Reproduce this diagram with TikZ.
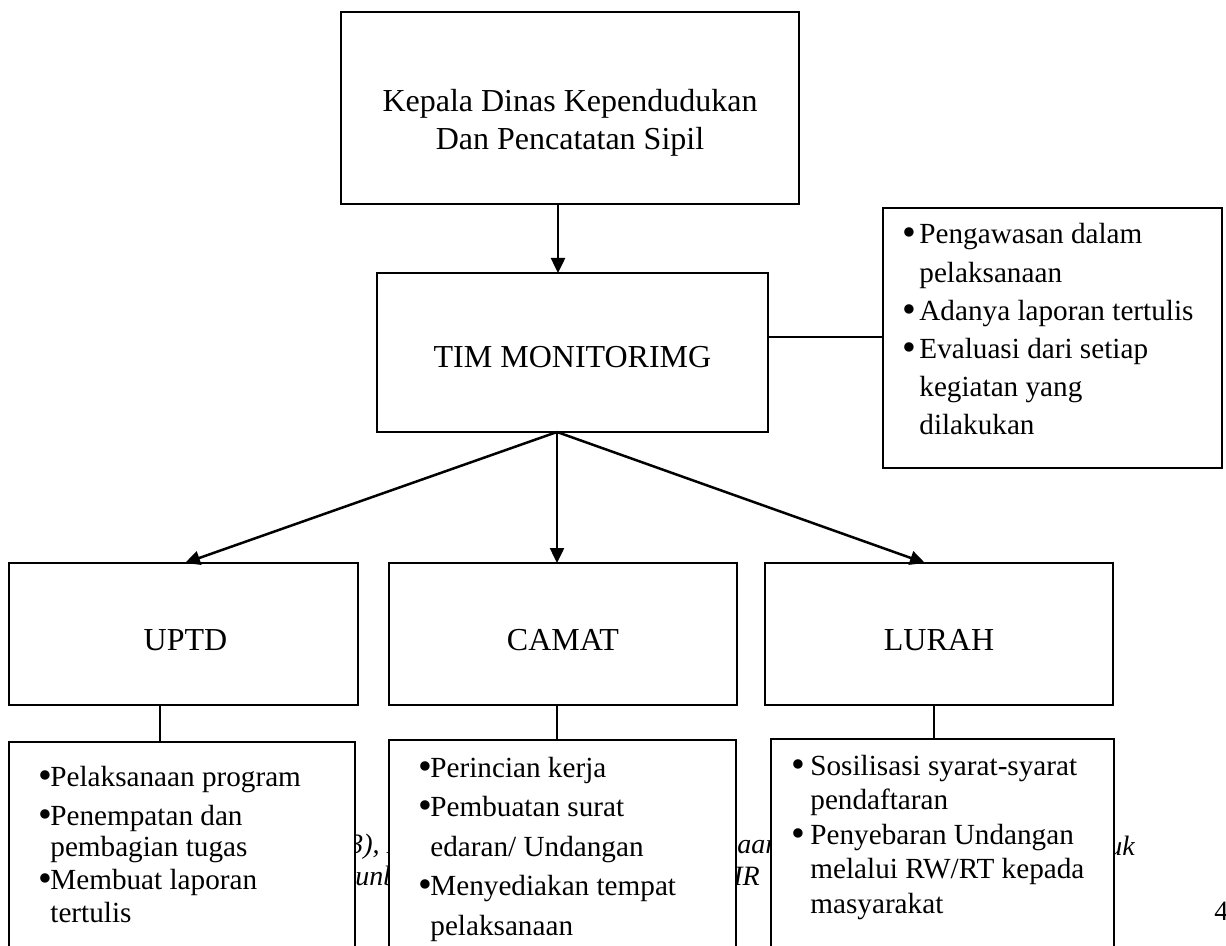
\documentclass[tikz,border=0pt]{standalone}
\usepackage{fontspec}
\setmainfont{Liberation Serif}
\usetikzlibrary{arrows.meta}
\newcommand\bl[1]{\makebox[#1pt][l]{\raisebox{-1pt}{\scalebox{1.35}{\textbullet}}}}
\newcommand\ind[1]{\hspace*{#1pt}}
\begin{document}
\begin{tikzpicture}[x=0.5pt,y=-0.5pt,
  box/.style={draw, line width=0.85pt, fill=white, inner sep=0pt, outer sep=0pt},
  big/.style={font=\fontsize{16}{19}\selectfont, inner sep=0pt, align=center},
  lst/.style={align=left, inner sep=0pt, anchor=base west},
  frag/.style={font=\fontsize{14}{16}\selectfont\itshape, inner sep=0pt, anchor=base west},
  arr/.style={line width=1.25pt, -{Triangle[length=7.5pt,width=7pt]}},
  ln/.style={line width=0.6pt}]
\useasboundingbox (0,0) rectangle (1226,946);
\clip (0,0) rectangle (1226,946);
% fragments of text lying behind the boxes
\node[frag] (f1) at (349,853) {3), I};
\node[frag] (f2) at (355,885) {unb};
\node[frag] (f3) at (737,853) {aar};
\node[frag] (f4) at (733,885) {IR};
\node[frag] (f5) at (1108,855) {uk};
\node[frag, font=\fontsize{14}{16}\selectfont] (f6) at (1214,920) {4};
% boxes
\node[box, minimum width=229pt, minimum height=96pt] (top) at (570,108) {};
\node[box, minimum width=195.5pt, minimum height=79.5pt] (tim) at (572.5,352.5) {};
\node[box, minimum width=169.5pt, minimum height=130pt] (ket) at (1052.5,338) {};
\node[box, minimum width=174.5pt, minimum height=71pt] (uptd) at (183.5,634) {};
\node[box, minimum width=174pt, minimum height=71pt] (camat) at (563,634) {};
\node[box, minimum width=174pt, minimum height=71pt] (lurah) at (939,634) {};
\node[box, minimum width=173pt, minimum height=125pt] (l1) at (182,867) {};
\node[box, minimum width=173.5pt, minimum height=125pt] (l2) at (562.5,865) {};
\node[box, minimum width=171.5pt, minimum height=125pt] (l3) at (942.5,864) {};
% labels (base anchor = baseline of the last line)
\node[big, anchor=base] (toplbl) at (570,150) {Kepala Dinas Kependudukan\\Dan Pencatatan Sipil};
\node[big, anchor=base] (timlbl) at (572.5,368) {TIM MONITORIMG};
\node[big, anchor=base] (uptdlbl) at (185.5,650) {UPTD};
\node[big, anchor=base] (camatlbl) at (563,650) {CAMAT};
\node[big, anchor=base] (lurahlbl) at (939,650) {LURAH};
% lists
\node[lst, font=\fontsize{14.6}{19.1}\selectfont] (ketlst) at (902,435)
 {\bl{8.5}Pengawasan dalam\\\ind{8.5}pelaksanaan\\\bl{8.5}Adanya laporan tertulis\\\bl{8.5}Evaluasi dari setiap\\\ind{8.5}kegiatan yang\\\ind{8.5}dilakukan};
\node[lst, font=\fontsize{14.6}{16}\selectfont] (l1lst) at (38,922)
 {\bl{6}Pelaksanaan program\\[3.5pt]\bl{6}Penempatan dan\\[-0.5pt]\ind{6}pembagian tugas\\[0.5pt]\bl{6}Membuat laporan\\[0.5pt]\ind{6}tertulis};
\node[lst, font=\fontsize{14.6}{19.75}\selectfont] (l2lst) at (418,935)
 {\bl{6}Perincian kerja\\\bl{6}Pembuatan surat\\\ind{6}edaran/ Undangan\\\bl{6}Menyediakan tempat\\\ind{6}pelaksanaan};
\node[lst, font=\fontsize{14.6}{17.25}\selectfont] (l3lst) at (791,913)
 {\bl{9.5}Sosilisasi syarat-syarat\\\ind{9.5}pendaftaran\\\bl{9.5}Penyebaran Undangan\\\ind{9.5}melalui RW/RT kepada\\\ind{9.5}masyarakat};
% connectors
\draw[arr] (558,0 |- top.south) -- (558,0 |- tim.north);
\coordinate (src) at (557,0 |- tim.south);
\draw[arr] (src) -- (185,0 |- uptd.north);
\draw[arr] (src) -- (src |- camat.north);
\draw[arr] (src) -- (925,0 |- lurah.north);
\draw[line width=0.8pt] (tim.east |- 0,337) -- (ket.west |- 0,337);
\draw[ln] (160,0 |- uptd.south) -- (160,0 |- l1.north);
\draw[ln] (557,0 |- camat.south) -- (557,0 |- l2.north);
\draw[ln] (934,0 |- lurah.south) -- (934,0 |- l3.north);
\end{tikzpicture}
\end{document}
